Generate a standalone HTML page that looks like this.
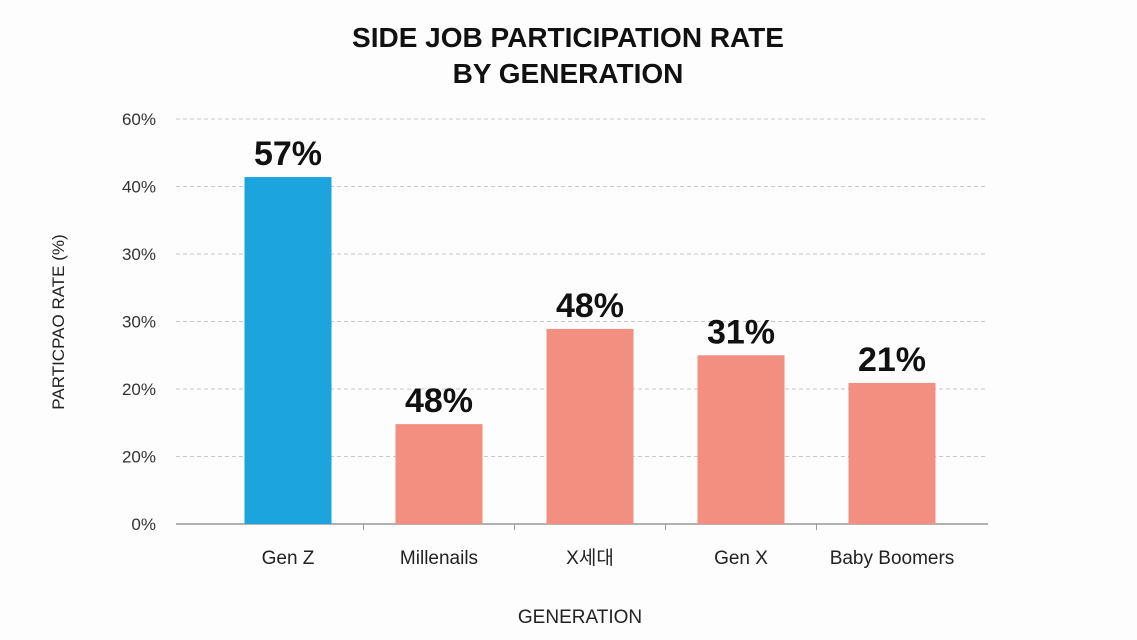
<!DOCTYPE html>
<html><head><meta charset="utf-8"><style>
body{margin:0;background:#fdfdfd;}
svg{display:block;font-family:"Liberation Sans","Noto Sans CJK KR",sans-serif;}
</style></head><body>
<svg width="1137" height="640" viewBox="0 0 1137 640">
<rect width="1137" height="640" fill="#fdfdfd"/>
<text x="568" y="47" text-anchor="middle" font-size="28" font-weight="bold" fill="#111">SIDE JOB PARTICIPATION RATE</text>
<text x="568" y="83" text-anchor="middle" font-size="28" font-weight="bold" fill="#111">BY GENERATION</text>
<text transform="translate(64,322) rotate(-90)" text-anchor="middle" font-size="17" fill="#222">PARTICPAO RATE (%)</text>
<text x="580" y="623" text-anchor="middle" font-size="19" fill="#222">GENERATION</text>
<g id="grid"></g><g id="bars"></g>
</svg>
<script>
const categories=["Gen Z","Millenails","X세대","Gen X","Baby Boomers"];
const values=[51.4,14.8,28.9,25.0,20.9];
const valueLabels=["57%","48%","48%","31%","21%"];
const tickValues=[0,10,20,30,40,50,60];
const tickLabels=["0%","20%","20%","30%","30%","40%","60%"];
const colors=["#1ba4dd","#f28f80","#f28f80","#f28f80","#f28f80"];
const NS="http://www.w3.org/2000/svg";
const y0=524,y1=119,vmax=60,bandStart=212.5,band=151;
const yScale=v=>y0-(v/vmax)*(y0-y1);
const xCenter=i=>bandStart+band*(i+0.5);
function mk(t,a,p){const e=document.createElementNS(NS,t);for(const k in a)e.setAttribute(k,a[k]);p.appendChild(e);return e;}
const grid=document.getElementById('grid'),bars=document.getElementById('bars');
tickValues.forEach((v,i)=>{const y=yScale(v);
 if(v>0){const l=mk('line',{x1:176,x2:988,y1:y,y2:y,stroke:'#c8c8c8','stroke-dasharray':'4 3'},grid);
 
 }
 const t=mk('text',{x:156,y:y+6,'text-anchor':'end','font-size':17,fill:'#333'},grid);t.textContent=tickLabels[i];
 
 
});
const ax=mk('line',{x1:176,x2:988,y1:y0,y2:y0,stroke:'#999','stroke-width':1.5},grid);


for(let i=1;i<categories.length;i++){const x=bandStart+band*i;const tk=mk('line',{x1:x,x2:x,y1:y0,y2:y0+6,stroke:'#999'},grid);
 
 }
categories.forEach((c,i)=>{const cx=xCenter(i),w=87,y=yScale(values[i]);
 const r=mk('rect',{x:cx-w/2,y:y,width:w,height:y0-y,fill:colors[i]},bars);
 
 
 const vl=mk('text',{x:cx,y:y-12,'text-anchor':'middle','font-size':34,'font-weight':'bold',fill:'#111'},bars);vl.textContent=valueLabels[i];
 
 
 const cl=mk('text',{x:cx,y:564,'text-anchor':'middle','font-size':19,fill:'#222'},bars);cl.textContent=c;
 
 
});
</script>
</body></html>
